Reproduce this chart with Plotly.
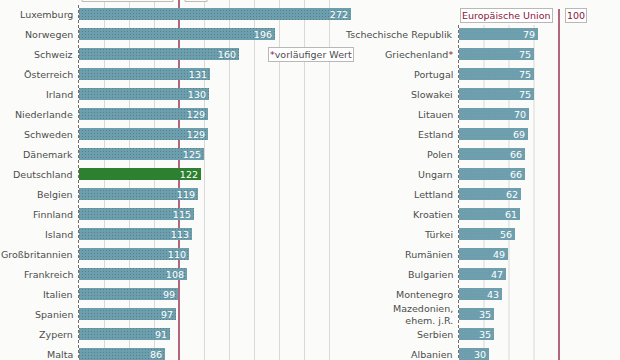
import plotly.graph_objects as go

left_countries = ["Luxemburg", "Norwegen", "Schweiz", "Österreich", "Irland", "Niederlande",
                  "Schweden", "Dänemark", "Deutschland", "Belgien", "Finnland", "Island",
                  "Großbritannien", "Frankreich", "Italien", "Spanien", "Zypern", "Malta"]
left_values = [272, 196, 160, 131, 130, 129, 129, 125, 122, 119, 115, 113, 110, 108, 99, 97, 91, 86]

right_countries = ["Tschechische Republik", "Griechenland", "Portugal", "Slowakei", "Litauen",
                   "Estland", "Polen", "Ungarn", "Lettland", "Kroatien", "Türkei", "Rumänien",
                   "Bulgarien", "Montenegro", "Mazedonien,<br>ehem. j.R.", "Serbien", "Albanien"]
right_values = [79, 75, 75, 75, 70, 69, 66, 66, 62, 61, 56, 49, 47, 43, 35, 35, 30]
right_provisional = ["Griechenland"]

highlight = "Deutschland"
eu_value = 100
left_grid = [25, 50, 75, 125, 150, 175, 200, 225, 250]
right_grid = [25, 50, 75]

BAR = "#6c9fad"
GREEN = "#2d8030"
RED = "#8b1538"
GRID = "#d9d9d9"
TEXT = "#4d4d4d"
FONT = "DejaVu Sans"
FS = 9.5

left_rows = list(range(len(left_countries)))
right_rows = [i + 1 for i in range(len(right_countries))]

DOTS = dict(fgcolor="#a09aac", fgopacity=0.45, size=3, solidity=0.12)

fig = go.Figure()
fig.add_trace(go.Bar(
    x=left_values, y=left_rows, orientation="h", width=0.6,
    marker=dict(color=[GREEN if c == highlight else BAR for c in left_countries], line_width=0,
                pattern=dict(shape=["" if c == highlight else "." for c in left_countries], **DOTS)),
    text=[str(v) for v in left_values], textposition="inside", insidetextanchor="end",
    textangle=0, textfont=dict(color="white", family=FONT, size=FS),
    xaxis="x", yaxis="y", hoverinfo="skip", cliponaxis=False))
fig.add_trace(go.Bar(
    x=right_values, y=right_rows, orientation="h", width=0.6,
    marker=dict(color=BAR, line_width=0, pattern=dict(shape=".", **DOTS)),
    text=[str(v) for v in right_values], textposition="inside", insidetextanchor="end",
    textangle=0, textfont=dict(color="white", family=FONT, size=FS),
    xaxis="x2", yaxis="y", hoverinfo="skip", cliponaxis=False))

annotations = []
for c, r in zip(left_countries, left_rows):
    annotations.append(dict(x=-4, y=r, xref="x", yref="y", text=c, showarrow=False,
                            xanchor="right", yanchor="middle", align="right",
                            font=dict(family=FONT, size=FS, color=TEXT)))
for c, r in zip(right_countries, right_rows):
    t = c + ("<span style='color:%s'>*</span>" % RED if c in right_provisional else "")
    annotations.append(dict(x=-4, y=r, xref="x2", yref="y", text=t, showarrow=False,
                            xanchor="right", yanchor="middle", align="right",
                            font=dict(family=FONT, size=FS, color=TEXT)))
annotations.append(dict(x=189, y=2.02, xref="x", yref="y",
                        text="<span style='color:%s'>*</span>vorläufiger Wert" % RED,
                        showarrow=False, xanchor="left", yanchor="middle",
                        bgcolor="white", bordercolor="#b8b8b8", borderwidth=1, borderpad=1,
                        font=dict(family=FONT, size=FS, color=TEXT)))
annotations.append(dict(x=94, y=0.07, xref="x2", yref="y", text="Europäische Union",
                        showarrow=False, xanchor="right", yanchor="middle",
                        bgcolor="white", bordercolor="#b8b8b8", borderwidth=1, borderpad=1,
                        font=dict(family=FONT, size=FS, color=RED)))
annotations.append(dict(x=106, y=0.07, xref="x2", yref="y", text=str(eu_value),
                        showarrow=False, xanchor="left", yanchor="middle",
                        bgcolor="white", bordercolor="#b8b8b8", borderwidth=1, borderpad=1,
                        font=dict(family=FONT, size=FS, color=RED)))

shapes = []
for g in right_grid:
    shapes.append(dict(type="line", xref="x2", yref="y", x0=g, x1=g, y0=0.55, y1=17.5,
                       line=dict(color=GRID, width=1), layer="below"))
shapes.append(dict(type="line", xref="x", yref="y", x0=eu_value, x1=eu_value, y0=-0.8, y1=17.5,
                   line=dict(color=RED, width=1.3), layer="below"))
shapes.append(dict(type="line", xref="x2", yref="y", x0=eu_value, x1=eu_value, y0=-0.25, y1=17.5,
                   line=dict(color=RED, width=1.3), layer="below"))
shapes.append(dict(type="line", xref="x", yref="y", x0=-0.5, x1=-0.5, y0=-0.45, y1=17.5,
                   line=dict(color="#7d6868", width=1, dash="3px,2px"), layer="below"))
shapes.append(dict(type="line", xref="x2", yref="y", x0=-0.5, x1=-0.5, y0=0.55, y1=17.5,
                   line=dict(color="#7d6868", width=1, dash="3px,2px"), layer="below"))
# partially visible boxes at the top edge
shapes.append(dict(type="rect", xref="x", yref="paper", x0=3, x1=94, y0=0.996, y1=1.1,
                   line=dict(color="#b8b8b8", width=1), fillcolor="white"))
shapes.append(dict(type="rect", xref="x", yref="paper", x0=106, x1=128, y0=0.996, y1=1.1,
                   line=dict(color="#b8b8b8", width=1), fillcolor="white"))

fig.update_layout(
    width=620, height=360, margin=dict(l=0, r=0, t=0, b=0),
    paper_bgcolor="#fbfcf9", plot_bgcolor="#fbfcf9", showlegend=False, bargap=0,
    uniformtext=dict(minsize=FS, mode="show"),
    xaxis=dict(range=[-79, 541], tickvals=left_grid, showgrid=True, gridcolor=GRID, gridwidth=1,
               showticklabels=False, zeroline=False, showline=False, fixedrange=True),
    xaxis2=dict(range=[-459, 161], overlaying="x", showgrid=False, showticklabels=False,
                zeroline=False, showline=False, fixedrange=True),
    yaxis=dict(range=[17.3, -0.7], showgrid=False, showticklabels=False, zeroline=False,
               showline=False, fixedrange=True),
    annotations=annotations, shapes=shapes,
)

fig.write_html("out.html", config={"displayModeBar": False},
               post_script="document.body.style.margin='0';document.body.style.overflow='hidden';")
